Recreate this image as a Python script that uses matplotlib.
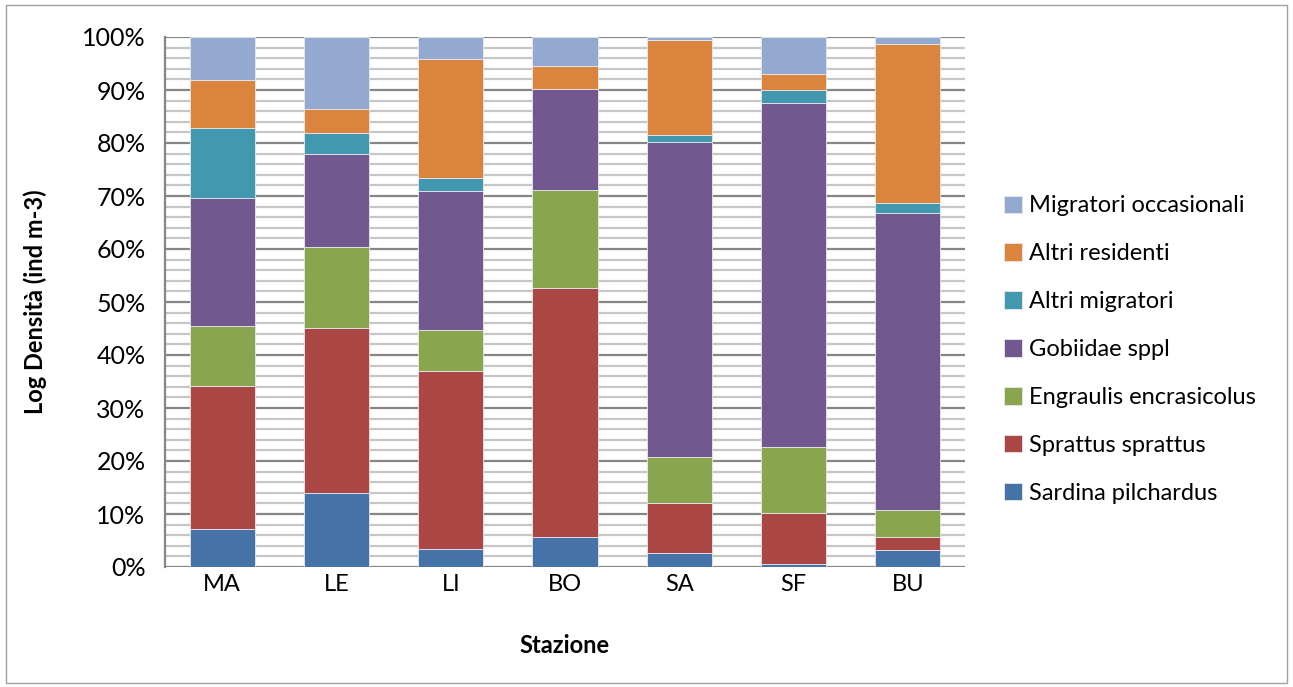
import numpy as np
import matplotlib
matplotlib.use("Agg")
from matplotlib import pyplot as plt
from matplotlib.patches import Rectangle
from matplotlib.ticker import MultipleLocator, PercentFormatter

stations = ['MA', 'LE', 'LI', 'BO', 'SA', 'SF', 'BU']
series = ['Sardina pilchardus', 'Sprattus sprattus', 'Engraulis encrasicolus',
          'Gobiidae sppl', 'Altri migratori', 'Altri residenti', 'Migratori occasionali']

# shares (%) per station
sardina = [7.2, 14.0, 3.4, 5.7, 2.7, 0.6, 3.2]
sprattus = [27.0, 31.1, 33.6, 46.9, 9.4, 9.5, 2.4]
engraulis = [11.3, 15.3, 7.7, 18.5, 8.6, 12.5, 5.2]
gobiidae = [24.1, 17.6, 26.2, 19.1, 59.5, 64.9, 55.9]
altri_migr = [13.2, 3.8, 2.5, 0.0, 1.3, 2.5, 1.9]
altri_res = [9.1, 4.6, 22.4, 4.4, 17.9, 3.1, 30.0]
migr_occ = [8.1, 13.6, 4.2, 5.4, 0.6, 6.9, 1.4]

colors = ['#4572A7', '#AA4643', '#89A54E', '#71588F', '#4198AF', '#DB843D', '#93A9CF']

plt.rcParams['font.family'] = ['Lato', 'DejaVu Sans']
fs = 17

fig = plt.figure(figsize=(12.93, 6.87), dpi=100)
ax = fig.add_axes([165 / 1293, 1 - 567 / 687, 800 / 1293, 530 / 687])

data = [sardina, sprattus, engraulis, gobiidae, altri_migr, altri_res, migr_occ]
x = np.arange(len(stations))
bottom = np.zeros(len(stations))
handles = []
for vals, name, c in zip(data, series, colors):
    v = np.array(vals)
    b = ax.bar(x, v, 0.57, bottom=bottom, color=c, label=name,
               edgecolor='#e8e8f0', linewidth=0.6, zorder=3)
    handles.append(b)
    bottom += v

ax.set_xlim(-0.5, 6.5)
ax.set_ylim(0, 100)
ax.set_xticks(x)
ax.set_xticklabels(stations)
ax.yaxis.set_major_locator(MultipleLocator(10))
ax.yaxis.set_minor_locator(MultipleLocator(2))
ax.yaxis.set_major_formatter(PercentFormatter(decimals=0))
ax.grid(axis='y', which='minor', color='#c6c6c6', linewidth=1.6, zorder=0)
ax.grid(axis='y', which='major', color='#868686', linewidth=1.6, zorder=1)
ax.tick_params(axis='both', which='both', length=0, labelsize=fs, colors='black')
ax.tick_params(axis='y', labelsize=18, pad=14)
ax.tick_params(axis='x', pad=5)
for s in ['top', 'right', 'bottom']:
    ax.spines[s].set_visible(False)
ax.spines['left'].set_color('#868686')
ax.spines['left'].set_linewidth(1.6)

ax.set_xlabel('Stazione', fontsize=fs, fontweight='bold', labelpad=28)
ax.set_ylabel('Log Densità (ind m-3)', fontsize=fs, fontweight='bold', labelpad=25)

leg = ax.legend(handles[::-1], series[::-1], loc='center left',
                bbox_to_anchor=(1.022, 0.41), frameon=False, fontsize=fs,
                handlelength=0.75, handleheight=0.75, labelspacing=1.14,
                handletextpad=0.3)

fig.patches.append(Rectangle((6 / 1293, 4 / 687), 1281 / 1293, 678 / 687,
                             transform=fig.transFigure, fill=False,
                             edgecolor='#a0a0a0', linewidth=1))

fig.savefig('out.png', dpi=100)
